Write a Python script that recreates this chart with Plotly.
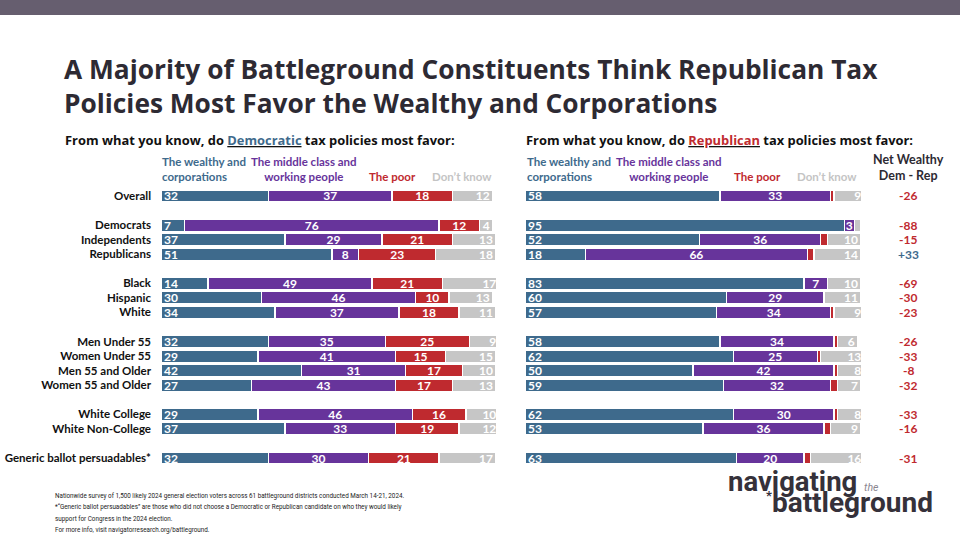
import plotly.graph_objects as go

# rows of the chart, in order, and how they group (blank row between groups)
rows = ["Overall", "Democrats", "Independents", "Republicans", "Black", "Hispanic", "White",
        "Men Under 55", "Women Under 55", "Men 55 and Older", "Women 55 and Older",
        "White College", "White Non-College", "Generic ballot persuadables*"]
group_sizes = [1, 3, 3, 4, 2, 1]

# Democratic tax policies most favor
dem_wealthy = [32, 7, 37, 51, 14, 30, 34, 32, 29, 42, 27, 29, 37, 32]
dem_middle = [37, 76, 29, 8, 49, 46, 37, 35, 41, 31, 43, 46, 33, 30]
dem_poor = [18, 12, 21, 23, 21, 10, 18, 25, 15, 17, 17, 16, 19, 21]
dem_dk = [12, 4, 13, 18, 17, 13, 11, 9, 15, 10, 13, 10, 12, 17]

# Republican tax policies most favor
rep_wealthy = [58, 95, 52, 18, 83, 60, 57, 58, 62, 50, 59, 62, 53, 63]
rep_middle = [33, 3, 36, 66, 7, 29, 34, 34, 25, 42, 32, 30, 36, 20]
rep_poor = [1, 0, 2, 2, 0, 0, 1, 1, 1, 1, 2, 1, 2, 2]
rep_dk = [9, 2, 10, 14, 10, 11, 9, 6, 13, 8, 7, 8, 9, 16]

net_wealthy = [-26, -88, -15, 33, -69, -30, -23, -26, -33, -8, -32, -33, -16, -31]

series_names = ["The wealthy and corporations", "The middle class and working people",
                "The poor", "Don't know"]

footer_lines = [
    "Nationwide survey of 1,500 likely 2024 general election voters across 61 battleground "
    "districts conducted March 14-21, 2024.",
    "*\u201cGeneric ballot persuadables\u201d are those who did not choose a Democratic or "
    "Republican candidate on who they would likely",
    "support for Congress in the 2024 election.",
    "For more info, visit navigatorresearch.org/battleground.",
]

BLUE = "#3e6a8c"
PURPLE = "#67349b"
RED = "#bf2a2f"
GRAY = "#c6c6c6"
DARK = "#2d2a33"
LOGO = "#35313a"
FONT = "Lato"
HEAD = "Open Sans"
colors = [BLUE, PURPLE, RED, GRAY]
anchors = ["start", "middle", "middle", "end"]


def px(x):
    return x / 960


def py(y):
    return 1 - y / 540


# category order with blank spacer rows between groups
cat_order = []
i = 0
for g, n in enumerate(group_sizes):
    cat_order += rows[i:i + n]
    i += n
    if g < len(group_sizes) - 1:
        cat_order.append(" " * (g + 1))

fig = go.Figure()

for xa, data in [("x", [dem_wealthy, dem_middle, dem_poor, dem_dk]),
                 ("x2", [rep_wealthy, rep_middle, rep_poor, rep_dk])]:
    for name, vals, col, anc in zip(series_names, data, colors, anchors):
        fig.add_trace(go.Bar(
            y=rows, x=vals, orientation="h", name=name, xaxis=xa, yaxis="y",
            marker=dict(color=col, line=dict(color="white", width=1.4)),
            width=0.84,
            text=[str(v) if v >= 3 else "" for v in vals],
            textposition="inside", insidetextanchor=anc, constraintext="none", textangle=0,
            textfont=dict(family=FONT, size=12, color="white", weight="bold"),
            showlegend=False, hoverinfo="skip",
        ))

ann = []

# title, subtitles
ann.append(dict(x=px(62), y=py(49), xanchor="left", yanchor="top", align="left",
                text="A Majority of Battleground Constituents Think Republican Tax<br>"
                     "Policies Most Favor the Wealthy and Corporations",
                font=dict(family=HEAD, size=26.3, color=DARK, weight="bold")))
ann.append(dict(x=px(63), y=py(140), xanchor="left", yanchor="middle",
                text="From what you know, do <u><span style='color:%s'>Democratic</span></u> "
                     "tax policies most favor:" % BLUE,
                font=dict(family=HEAD, size=12.9, color="#111", weight="bold")))
ann.append(dict(x=px(524), y=py(140), xanchor="left", yanchor="middle",
                text="From what you know, do <u><span style='color:%s'>Republican</span></u> "
                     "tax policies most favor:" % RED,
                font=dict(family=HEAD, size=12.9, color="#111", weight="bold")))

# series headers above each chart
hdr = dict(family=FONT, size=11.5, weight="bold")
for off in [0, 365]:
    ann.append(dict(x=px(160 + off), y=py(185), xanchor="left", yanchor="bottom", align="left",
                    text="The wealthy and<br>corporations", font=dict(hdr, color=BLUE)))
    ann.append(dict(x=px(304 + off), y=py(185), xanchor="center", yanchor="bottom",
                    text="The middle class and<br>working people", font=dict(hdr, color=PURPLE)))
    ann.append(dict(x=px(392 + off), y=py(185), xanchor="center", yanchor="bottom",
                    text="The poor", font=dict(hdr, color=RED)))
    ann.append(dict(x=px(494 + off), y=py(185), xanchor="right", yanchor="bottom",
                    text="Don\u2019t know", font=dict(hdr, color="#c4c4c4")))

ann.append(dict(x=px(908), y=py(185), xanchor="center", yanchor="bottom",
                text="Net Wealthy<br>Dem - Rep", font=dict(family=FONT, size=12.5, color=DARK, weight="bold")))

# net column
for r, v in zip(rows, net_wealthy):
    ann.append(dict(x=px(908), y=r, xref="paper", yref="y", xanchor="center", yanchor="middle",
                    showarrow=False, text=("%+d" % v),
                    font=dict(family=FONT, size=12, weight="bold", color=BLUE if v > 0 else RED)))

# footer
for k, line in enumerate(footer_lines):
    ann.append(dict(x=px(53), y=py(496 + 11.3 * k), xanchor="left", yanchor="middle", align="left",
                    text=line, font=dict(family="Roboto", size=6.3, color="#222")))

# logo
ann.append(dict(x=px(726), y=py(481), xanchor="left", yanchor="middle",
                text="navigating <span style='font-size:10.5px;color:#8a8690;font-weight:normal'>"
                     "<i>the</i></span>",
                font=dict(family="Roboto", size=27.5, color=LOGO, weight="bold")))
ann.append(dict(x=px(935), y=py(502), xanchor="right", yanchor="middle",
                text="<sup><span style='font-size:13px'>*</span></sup>battleground",
                font=dict(family="Roboto", size=28, color=LOGO, weight="bold")))

for a in ann:
    a.setdefault("xref", "paper")
    a.setdefault("yref", "paper")
    a.setdefault("showarrow", False)

fig.update_layout(
    width=960, height=540,
    margin=dict(l=0, r=0, t=0, b=0, pad=0),
    paper_bgcolor="white", plot_bgcolor="white",
    barmode="stack",
    annotations=ann,
    shapes=[dict(type="rect", xref="paper", yref="paper", x0=0, x1=1, y0=py(15), y1=1,
                 fillcolor="#665e6f", line=dict(width=0))],
    xaxis=dict(domain=[px(161), px(496)], range=[0, 100], visible=False,
               automargin=False, fixedrange=True),
    xaxis2=dict(domain=[px(525), px(861)], range=[0, 100], visible=False, anchor="y",
                automargin=False, fixedrange=True),
    yaxis=dict(domain=[py(465.3), py(188.7)], type="category", categoryorder="array",
               categoryarray=cat_order, range=[len(cat_order) - 0.5, -0.5],
               tickmode="array", tickvals=rows, ticktext=rows,
               showgrid=False, zeroline=False, showline=False, ticks="",
               ticklabelstandoff=9, automargin=False, fixedrange=True,
               tickfont=dict(family=FONT, size=11.5, color="#111", weight="bold")),
)

# page body has a default 8px margin; drop it so the figure sits at the window corner
fig.write_html("out.html", config={"displayModeBar": False},
               post_script="document.body.style.margin='0';")
